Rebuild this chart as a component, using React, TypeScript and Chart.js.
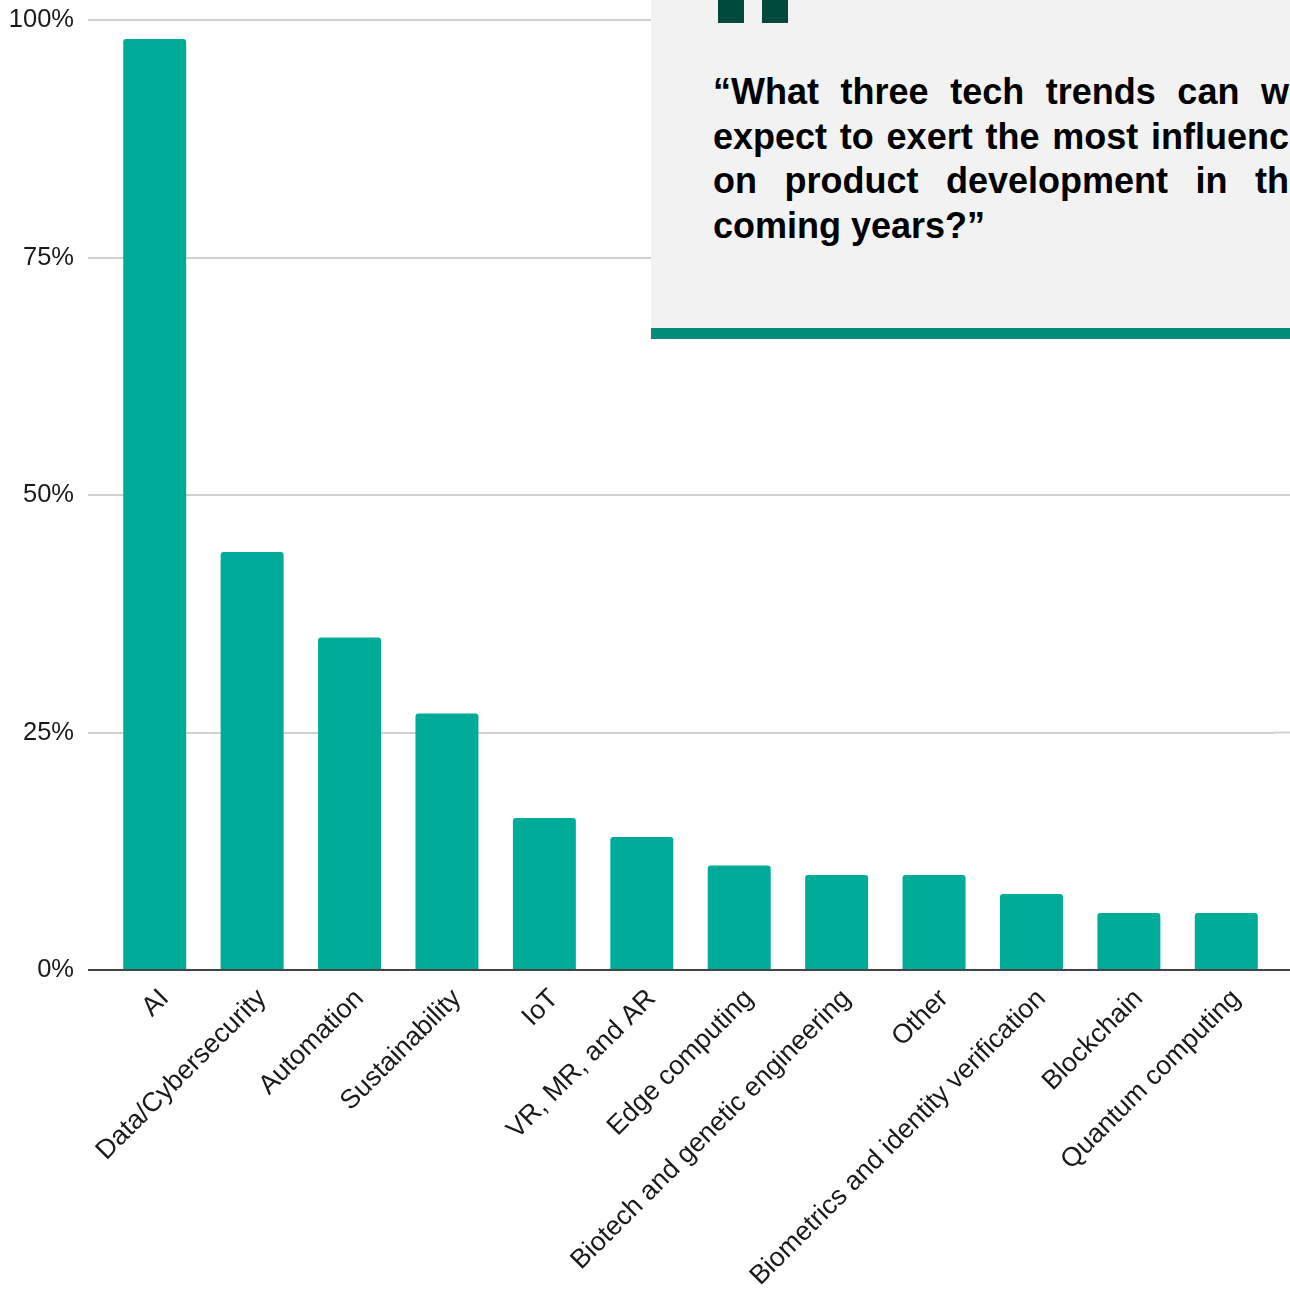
import React, { useEffect, useRef } from "react";
import { Chart, registerables } from "chart.js";

Chart.register(...registerables);

const categories = [
  "AI",
  "Data/Cybersecurity",
  "Automation",
  "Sustainability",
  "IoT",
  "VR, MR, and AR",
  "Edge computing",
  "Biotech and genetic engineering",
  "Other",
  "Biometrics and identity verification",
  "Blockchain",
  "Quantum computing",
];
const shares = [98, 44, 35, 27, 16, 14, 11, 10, 10, 8, 6, 6];
const yTicks = [0, 25, 50, 75, 100];
const quoteText =
  "\u201CWhat three tech trends can we expect to exert the most influence on product development in the coming years?\u201D";

const FONT = '"Liberation Sans", Arial, sans-serif';
const BAR = "#00ac98";
const GRID = "#d0d0d0";
const AXIS = "#444444";

export default function App() {
  const ref = useRef<HTMLCanvasElement | null>(null);

  useEffect(() => {
    if (!ref.current) return;
    const extendGrid = {
      id: "extendGrid",
      beforeDatasetsDraw(chart: any) {
        const { ctx, chartArea } = chart;
        const y = chart.scales.y;
        ctx.save();
        yTicks.forEach((v) => {
          const py = y.getPixelForValue(v);
          ctx.beginPath();
          ctx.strokeStyle = v === 0 ? AXIS : GRID;
          ctx.lineWidth = 2;
          ctx.moveTo(chartArea.right - 1, py);
          ctx.lineTo(chart.width, py);
          ctx.stroke();
        });
        ctx.restore();
      },
    };
    const chart = new Chart(ref.current, {
      type: "bar",
      data: {
        labels: categories,
        datasets: [
          {
            data: shares,
            backgroundColor: BAR,
            borderRadius: { topLeft: 3, topRight: 3, bottomLeft: 0, bottomRight: 0 },
            borderSkipped: "bottom",
            categoryPercentage: 1,
            barPercentage: 0.6465,
          },
        ],
      },
      options: {
        responsive: false,
        animation: false,
        devicePixelRatio: 1,
        layout: { padding: { left: 0, right: 15, top: 20, bottom: 0 } },
        plugins: { legend: { display: false }, tooltip: { enabled: false } },
        scales: {
          x: {
            offset: true,
            grid: { display: false, drawTicks: false },
            border: { display: true, color: AXIS, width: 2 },
            ticks: {
              font: { family: FONT, size: 26.8 },
              color: "#1a1a1a",
              minRotation: 45,
              maxRotation: 45,
              autoSkip: false,
              padding: 13,
              labelOffset: 10,
            },
            afterFit: (s: any) => {
              s.height = 323;
              s.paddingLeft = 0;
              s.paddingRight = 0;
            },
          },
          y: {
            min: 0,
            max: 100,
            afterBuildTicks: (s: any) => {
              s.ticks = yTicks.map((v) => ({ value: v }));
            },
            grid: {
              color: (c: any) => (c.tick && c.tick.value === 0 ? AXIS : GRID),
              lineWidth: 2,
              drawTicks: true,
              tickLength: 18,
            },
            border: { display: false },
            ticks: {
              font: { family: FONT, size: 25.5 },
              color: "#1a1a1a",
              padding: 14,
              callback: (v: any) => v + "%",
            },
            afterFit: (s: any) => {
              s.width = 106;
              s.paddingTop = 0;
              s.paddingBottom = 0;
            },
          },
        },
      },
      plugins: [extendGrid],
    });
    return () => chart.destroy();
  }, []);

  return (
    <div
      style={{
        position: "fixed",
        left: 0,
        top: 0,
        width: 1290,
        height: 1293,
        overflow: "hidden",
        background: "#ffffff",
      }}
    >
      <canvas ref={ref} width={1290} height={1293} style={{ position: "absolute", left: 0, top: 0 }} />
      <div
        style={{
          position: "absolute",
          left: 651,
          top: 0,
          width: 639,
          height: 339,
          overflow: "hidden",
        }}
      >
        <div style={{ position: "absolute", left: 0, top: 0, width: 639, height: 328, background: "#f2f2f2" }} />
        <div style={{ position: "absolute", left: 0, top: 328, width: 639, height: 11, background: "#008e7b" }} />
        <div style={{ position: "absolute", left: 67, top: 0, width: 26, height: 23, background: "#004a3c" }} />
        <div style={{ position: "absolute", left: 111, top: 0, width: 26, height: 23, background: "#004a3c" }} />
        <div
          style={{
            position: "absolute",
            left: 62,
            top: 70,
            width: 596,
            fontFamily: FONT,
            fontWeight: "bold",
            fontSize: 36,
            lineHeight: "44.7px",
            textAlign: "justify",
            color: "#000000",
          }}
        >
          {quoteText}
        </div>
      </div>
    </div>
  );
}
